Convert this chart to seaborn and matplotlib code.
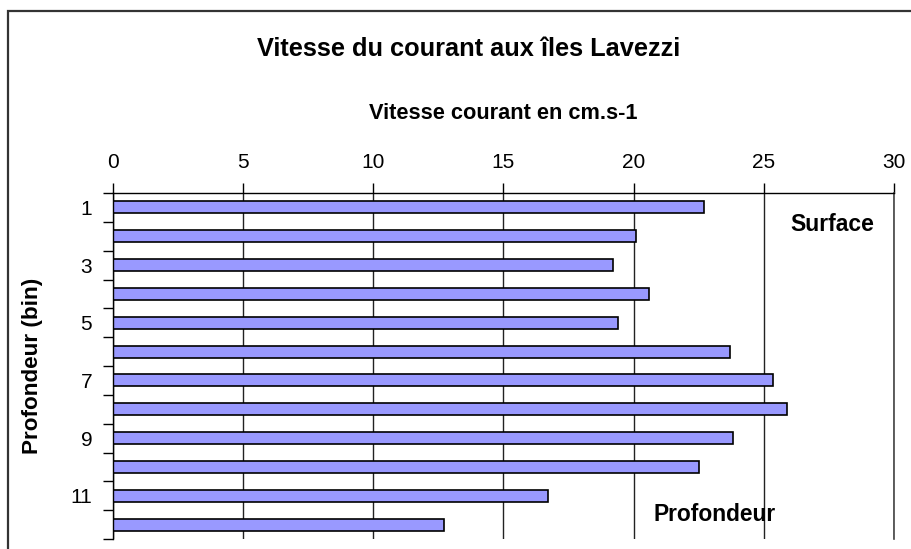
import matplotlib
matplotlib.use("Agg")
import matplotlib.pyplot as plt
import seaborn as sns
import pandas as pd
from matplotlib.patches import Rectangle

# valeurs
bins = ["1", "2", "3", "4", "5", "6", "7", "8", "9", "10", "11", "12"]
vitesse = [22.7, 20.1, 19.2, 20.6, 19.4, 23.7, 25.35, 25.9, 23.8, 22.5, 16.7, 12.7]
tick_labels = ["1", "", "3", "", "5", "", "7", "", "9", "", "11", ""]

df = pd.DataFrame({"bin": bins, "vitesse": vitesse})

sns.set_style("white")
plt.rcParams["font.family"] = ["Liberation Sans", "DejaVu Sans"]
plt.rcParams["text.color"] = "black"
plt.rcParams["axes.labelcolor"] = "black"
plt.rcParams["xtick.color"] = "black"
plt.rcParams["ytick.color"] = "black"

fig = plt.figure(figsize=(9.12, 5.49), dpi=100)
ax = fig.add_axes([113 / 912, 1 - 539 / 549, 781 / 912, 346 / 549])

sns.barplot(data=df, x="vitesse", y="bin", orient="h", color="#9999FF",
            saturation=1, edgecolor="black", linewidth=1.2, width=0.42, ax=ax)

ax.set_xlim(0, 30)
ax.set_ylim(11.5, -0.5)

# axe x en haut
ax.xaxis.tick_top()
ax.set_xticks(range(0, 31, 5))
ax.tick_params(axis="x", direction="out", length=7, width=1, pad=8,
               labelsize=15, colors="black")
ax.set_xlabel("Vitesse courant en cm.s-1", fontsize=15.7, fontweight="bold")
ax.xaxis.set_label_position("top")
ax.xaxis.set_label_coords(0.5, (539 - 119) / 346)

# axe y : étiquettes impaires, graduations entre les barres
ax.set_yticks(range(12))
ax.set_yticklabels(tick_labels)
ax.set_yticks([i - 0.5 for i in range(13)], minor=True)
ax.tick_params(axis="y", which="major", length=0, pad=15, labelsize=15)
ax.tick_params(axis="y", which="minor", left=True, direction="out",
               length=7, width=1, color="black")
ax.set_ylabel("Profondeur (bin)", fontsize=16.2, fontweight="bold")
ax.yaxis.set_label_coords((43 - 113) / 781, 0.5)

# grille verticale
ax.set_axisbelow(True)
ax.xaxis.grid(True, color="#222222", linewidth=1)
ax.yaxis.grid(False)

ax.spines["bottom"].set_visible(False)
ax.spines["right"].set_color("#444444")
ax.spines["right"].set_linewidth(1.2)
for s in ["top", "left"]:
    ax.spines[s].set_color("black")
    ax.spines[s].set_linewidth(1)

ax.text(0.9206, 0.91, "Surface", transform=ax.transAxes, ha="center",
        va="center", fontsize=16.5, fontweight="bold")
ax.text(0.7708, 0.072, "Profondeur", transform=ax.transAxes, ha="center",
        va="center", fontsize=16.4, fontweight="bold")

fig.text(468.5 / 912, 1 - 49 / 549, "Vitesse du courant aux îles Lavezzi",
         ha="center", va="center", fontsize=18.3, fontweight="bold")

# cadre de la zone graphique
fig.patches.append(Rectangle((8.5 / 912, -0.1), 1.2, 1 - 10.5 / 549 + 0.1,
                             transform=fig.transFigure, fill=False,
                             edgecolor="#333333", linewidth=1.6))

fig.savefig("out.png", dpi=100)
